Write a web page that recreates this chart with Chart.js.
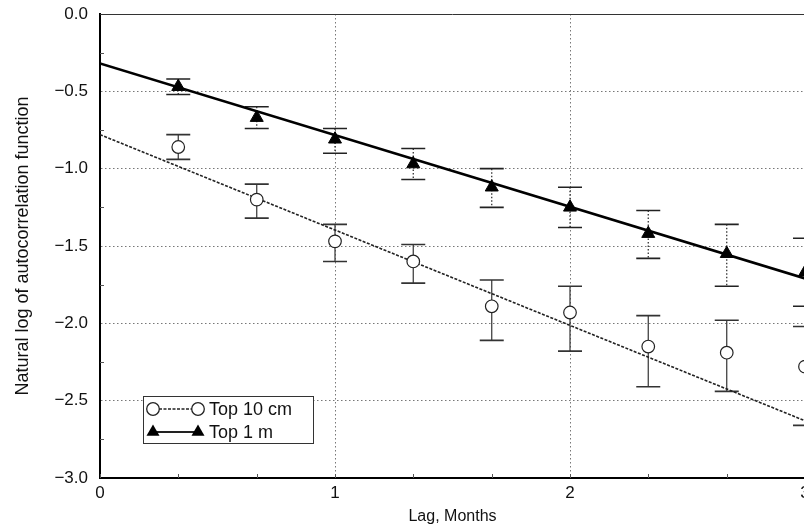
<!DOCTYPE html>
<html>
<head>
<meta charset="utf-8">
<script src="https://cdn.jsdelivr.net/npm/chart.js@4"></script>
<style>
  html, body { margin: 0; padding: 0; background: #fff; overflow: hidden; }
  #wrap { width: 840px; height: 528px; }
</style>
</head>
<body>
<div id="wrap"><canvas id="acf" width="840" height="528"></canvas></div>
<script>
// lag in months
var lag = [0.333, 0.667, 1, 1.333, 1.667, 2, 2.333, 2.667, 3];

// Top 10 cm: ln(acf) with error bar ends
var top10cm   = [-0.86, -1.20, -1.47, -1.60, -1.89, -1.93, -2.15, -2.19, -2.28];
var top10cmHi = [-0.78, -1.10, -1.36, -1.49, -1.72, -1.76, -1.95, -1.98, -2.02];
var top10cmLo = [-0.94, -1.32, -1.60, -1.74, -2.11, -2.18, -2.41, -2.44, -2.66];

// Top 1 m
var top1m   = [-0.47, -0.67, -0.81, -0.97, -1.12, -1.25, -1.42, -1.55, -1.67];
var top1mHi = [-0.42, -0.60, -0.74, -0.87, -1.00, -1.12, -1.27, -1.36, -1.45];
var top1mLo = [-0.52, -0.74, -0.90, -1.07, -1.25, -1.38, -1.58, -1.76, -1.89];

// fitted lines, ends at lag 0 and 3
var fitLag = [0, 3];
var fit10cm = [-0.78, -2.63];
var fit1m = [-0.32, -1.71];

var xTicks = [0, 0.333, 0.667, 1, 1.333, 1.667, 2, 2.333, 2.667, 3];
var yTicks = [-3, -2.5, -2, -1.5, -1, -0.5, 0];

function pts(xs, ys) {
  return xs.map(function (x, i) { return { x: x, y: ys[i] }; });
}
function fmtY(v) {
  var s = Math.abs(v).toFixed(1);
  return v < 0 ? '\u2212' + s : s;
}
var FONT = '"Liberation Sans", Arial, Helvetica, sans-serif';

// vertical error bars with caps, under the markers
var errorBars = {
  id: 'errorBars',
  beforeDatasetsDraw: function (chart) {
    var c = chart.ctx, xs = chart.scales.x, ys = chart.scales.y;
    var sets = [
      { hi: top10cmHi, lo: top10cmLo, dash: [] , color: '#333' },
      { hi: top1mHi, lo: top1mLo, dash: [1.5, 2], color: '#222' }
    ];
    c.save();
    sets.forEach(function (s) {
      lag.forEach(function (l, i) {
        var px = xs.getPixelForValue(l);
        var y1 = ys.getPixelForValue(s.hi[i]);
        var y2 = ys.getPixelForValue(s.lo[i]);
        c.strokeStyle = s.color;
        c.lineWidth = 1.2;
        c.setLineDash(s.dash);
        c.beginPath(); c.moveTo(px, y1); c.lineTo(px, y2); c.stroke();
        c.setLineDash([]);
        c.lineWidth = 1.6;
        c.beginPath();
        c.moveTo(px - 12, y1); c.lineTo(px + 12, y1);
        c.moveTo(px - 12, y2); c.lineTo(px + 12, y2);
        c.stroke();
      });
    });
    c.restore();
  }
};

// top frame line and inward minor ticks
var frame = {
  id: 'frame',
  beforeDatasetsDraw: function (chart) {
    var c = chart.ctx, a = chart.chartArea, xs = chart.scales.x, ys = chart.scales.y;
    c.save();
    c.strokeStyle = '#333';
    c.lineWidth = 1;
    c.beginPath(); c.moveTo(a.left, a.top + 0.5); c.lineTo(a.right, a.top + 0.5); c.stroke();
    c.strokeStyle = '#555';
    c.beginPath();
    xTicks.forEach(function (t) {
      var px = Math.round(xs.getPixelForValue(t)) + 0.5;
      c.moveTo(px, a.bottom); c.lineTo(px, a.bottom - 4);
    });
    for (var v = -2.75; v < 0; v += 0.5) {
      var py = Math.round(ys.getPixelForValue(v)) + 0.5;
      c.moveTo(a.left, py); c.lineTo(a.left + 4, py);
    }
    c.stroke();
    c.restore();
  }
};

function tri(c, x, y, r) {
  var e = 3 * r / Math.sqrt(3), h = e * Math.sqrt(3) / 2;
  c.beginPath();
  c.moveTo(x, y - 2 * h / 3);
  c.lineTo(x + e / 2, y + h / 3);
  c.lineTo(x - e / 2, y + h / 3);
  c.closePath();
  c.fill();
}

// boxed key with a marker at each end of the sample line
var keyBox = {
  id: 'keyBox',
  afterDraw: function (chart) {
    var c = chart.ctx;
    var bx = 143.5, by = 396.5, bw = 170, bh = 47;
    c.save();
    c.fillStyle = '#fff';
    c.fillRect(bx, by, bw, bh);
    c.strokeStyle = '#333';
    c.lineWidth = 1;
    c.strokeRect(bx, by, bw, bh);

    var r1 = 409, r2 = 432;
    c.strokeStyle = '#222';
    c.lineWidth = 1.3;
    c.setLineDash([3, 1.5]);
    c.beginPath(); c.moveTo(159, r1); c.lineTo(192, r1); c.stroke();
    c.setLineDash([]);
    c.fillStyle = '#fff';
    [153, 198].forEach(function (x) {
      c.beginPath(); c.arc(x, r1, 6.3, 0, Math.PI * 2); c.fill(); c.stroke();
    });
    c.lineWidth = 2.2;
    c.beginPath(); c.moveTo(153, r2); c.lineTo(198, r2); c.stroke();
    c.fillStyle = '#000';
    tri(c, 153, r2, 7.5);
    tri(c, 198, r2, 7.5);

    c.fillStyle = '#111';
    c.font = '18px ' + FONT;
    c.textBaseline = 'middle';
    c.fillText('Top 10 cm', 209, r1 + 1);
    c.fillText('Top 1 m', 209, r2 + 1);
    c.restore();
  }
};

var ctx = document.getElementById('acf').getContext('2d');
var acfChart = new Chart(ctx, {
  type: 'scatter',
  data: {
    datasets: [{
      label: 'Top 10 cm',
      data: pts(lag, top10cm),
      pointStyle: 'circle',
      pointRadius: 6.3,
      pointBackgroundColor: '#fff',
      pointBorderColor: '#222',
      pointBorderWidth: 1.2,
      showLine: false,
      order: 0
    }, {
      label: 'Top 1 m',
      data: pts(lag, top1m),
      pointStyle: 'triangle',
      pointRadius: 7.5,
      pointBackgroundColor: '#000',
      pointBorderColor: '#000',
      pointBorderWidth: 1,
      showLine: false,
      order: 0
    }, {
      label: 'fit 10 cm',
      data: pts(fitLag, fit10cm),
      showLine: true,
      borderColor: '#222',
      borderWidth: 1.6,
      borderDash: [3, 1.5],
      pointRadius: 0,
      order: 1
    }, {
      label: 'fit 1 m',
      data: pts(fitLag, fit1m),
      showLine: true,
      borderColor: '#000',
      borderWidth: 2.6,
      pointRadius: 0,
      order: 1
    }]
  },
  options: {
    responsive: false,
    animation: false,
    layout: { padding: { top: 14, right: 35, left: 0, bottom: 0 } },
    plugins: { legend: { display: false }, tooltip: { enabled: false } },
    scales: {
      x: {
        type: 'linear', min: 0, max: 3,
        afterBuildTicks: function (s) { s.ticks = xTicks.map(function (v) { return { value: v }; }); },
        afterFit: function (s) { s.height = 50; s.paddingLeft = 0; s.paddingRight = 0; },
        ticks: {
          autoSkip: false, maxRotation: 0, padding: 5, color: '#111',
          font: { family: FONT, size: 17 },
          callback: function (v) { return Math.abs(v - Math.round(v)) < 0.01 ? String(Math.round(v)) : ''; }
        },
        grid: {
          drawTicks: false,
          lineWidth: 1,
          color: function (c) {
            var v = c.tick && c.tick.value;
            return (v > 0.5 && v < 2.5 && Math.abs(v - Math.round(v)) < 0.01) ? '#777' : 'rgba(0,0,0,0)';
          }
        },
        border: { color: '#000', width: 2, dash: [1.5, 2.5] },
        title: {
          display: true, text: 'Lag, Months', color: '#111',
          font: { family: FONT, size: 16 }, padding: { top: 0, bottom: 2 }
        }
      },
      y: {
        type: 'linear', min: -3, max: 0,
        afterBuildTicks: function (s) { s.ticks = yTicks.map(function (v) { return { value: v }; }); },
        afterFit: function (s) { s.width = 100; s.paddingTop = 0; s.paddingBottom = 0; },
        ticks: {
          padding: 12, color: '#111',
          font: { family: FONT, size: 17 },
          callback: function (v) { return fmtY(v); }
        },
        grid: {
          drawTicks: false,
          lineWidth: 1,
          color: function (c) {
            var v = c.tick && c.tick.value;
            return (v > -2.9 && v < -0.1) ? '#777' : 'rgba(0,0,0,0)';
          }
        },
        border: { color: '#000', width: 2, dash: [1.5, 2.5] },
        title: {
          display: true, text: 'Natural log of autocorrelation function', color: '#111',
          font: { family: FONT, size: 18 }, padding: { top: 12, bottom: 0 }
        }
      }
    }
  },
  plugins: [errorBars, frame, keyBox]
});
</script>
</body>
</html>
